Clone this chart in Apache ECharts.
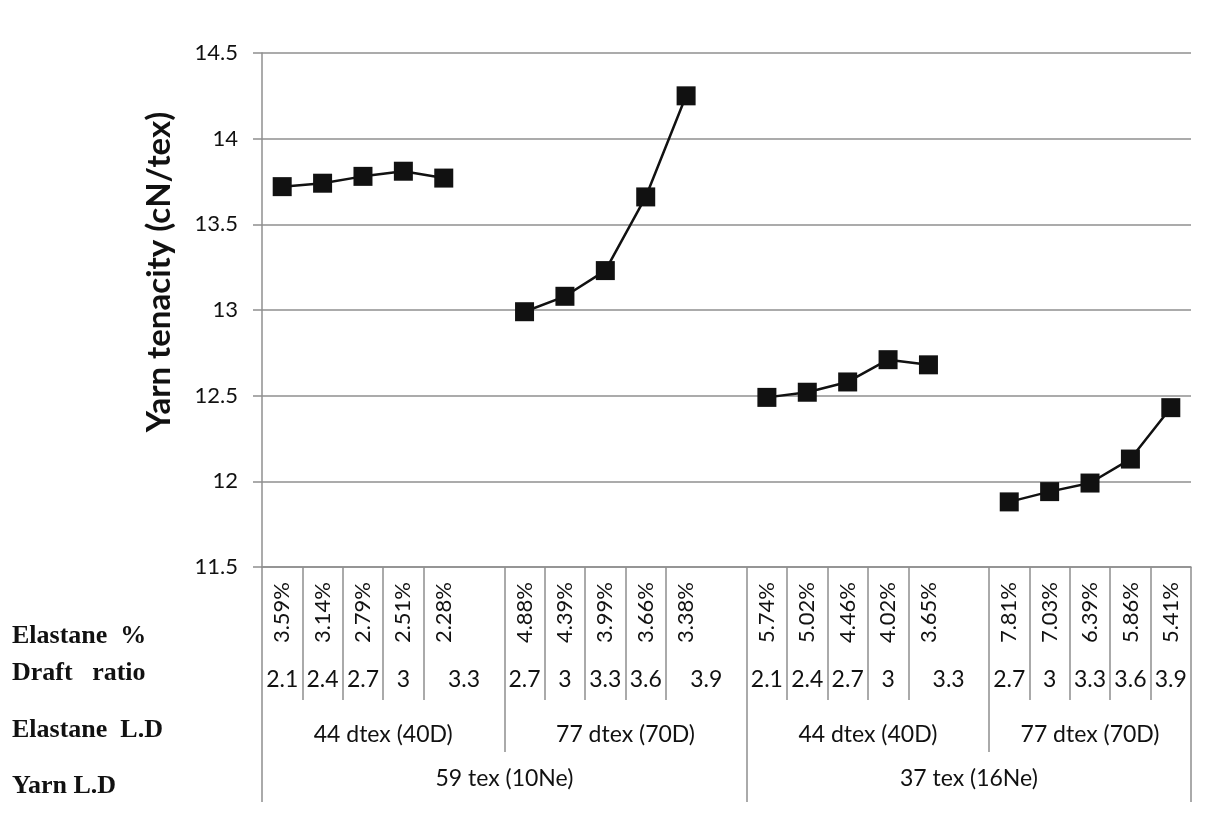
<!DOCTYPE html>
<html>
<head>
<meta charset="utf-8">
<script src="https://cdn.jsdelivr.net/npm/echarts@6/dist/echarts.min.js"></script>
<style>
  html, body { margin: 0; padding: 0; background: #fff; }
  #chart { width: 1210px; height: 815px; }
</style>
</head>
<body>
<div id="chart"></div>
<script>
// ---- data ----
const elastanePct = ['3.59%','3.14%','2.79%','2.51%','2.28%','',
                     '4.88%','4.39%','3.99%','3.66%','3.38%','',
                     '5.74%','5.02%','4.46%','4.02%','3.65%','',
                     '7.81%','7.03%','6.39%','5.86%','5.41%'];
const draftRatio  = ['2.1','2.4','2.7','3','3.3','',
                     '2.7','3','3.3','3.6','3.9','',
                     '2.1','2.4','2.7','3','3.3','',
                     '2.7','3','3.3','3.6','3.9'];
const elastaneLD     = ['44 dtex (40D)','77 dtex (70D)','44 dtex (40D)','77 dtex (70D)'];
const elastaneLDSpan = [6, 6, 6, 5];
const yarnLD         = ['59 tex (10Ne)','37 tex (16Ne)'];
const yarnLDSpan     = [12, 11];
const tenacity = [13.72,13.74,13.78,13.81,13.77,null,
                  12.99,13.08,13.23,13.66,14.25,null,
                  12.49,12.52,12.58,12.71,12.68,null,
                  11.88,11.94,11.99,12.13,12.43];
const rowNames = ['Elastane  %','Draft   ratio','Elastane  L.D','Yarn L.D'];
const yMin = 11.5, yMax = 14.5, yStep = 0.5;
const yTitle = 'Yarn tenacity (cN/tex)';

// ---- derived label layouts (in slot units) ----
const N = elastanePct.length;
const isSpacer = i => elastanePct[i] === '' && draftRatio[i] === '';
const draftMap = {};
for (let i = 0; i < N; i++) {
  if (draftRatio[i] === '') continue;
  const span = (i + 1 < N && isSpacer(i + 1)) ? 2 : 1;
  draftMap[Math.round((i + span / 2) * 2)] = draftRatio[i];
}
function groupInfo(labels, spans) {
  const map = {}, starts = {};
  let s = 0;
  labels.forEach((t, k) => { starts[s] = true; map[Math.round((s + spans[k] / 2) * 2)] = t; s += spans[k]; });
  return { map, starts };
}
const eld = groupInfo(elastaneLD, elastaneLDSpan);
const yld = groupInfo(yarnLD, yarnLDSpan);

const gridColor = '#8f8f8f';
const sansFont = 'Lato';

function tickAxis(intervalFn, len) {
  return {
    type: 'category', data: elastanePct, position: 'bottom', gridIndex: 0,
    axisLine: { show: false },
    axisLabel: { show: false },
    axisTick: { show: true, interval: intervalFn, length: len, lineStyle: { color: gridColor, width: 1.5 } },
    splitLine: { show: false }
  };
}
function labelAxis(map, margin) {
  return {
    type: 'value', min: 0, max: N, interval: 0.5, position: 'bottom', gridIndex: 0,
    axisLine: { show: false }, axisTick: { show: false }, splitLine: { show: false },
    axisLabel: {
      margin: margin, color: '#111', fontFamily: sansFont, fontSize: 23,
      showMinLabel: true, showMaxLabel: true,
      formatter: v => map[Math.round(v * 2)] || ''
    }
  };
}

const chart = echarts.init(document.getElementById('chart'), null, { renderer: 'canvas' });
chart.setOption({
  backgroundColor: '#fff',
  animation: false,
  grid: { left: 262, right: 19, top: 53, bottom: 248, containLabel: false },
  xAxis: [
    {
      type: 'category', data: elastanePct, position: 'bottom',
      axisLine: { show: true, lineStyle: { color: gridColor, width: 1.5 } },
      axisTick: { show: true, interval: (i) => !isSpacer(i), length: 133, lineStyle: { color: gridColor, width: 1.5 } },
      axisLabel: { interval: 0, rotate: 90, margin: 15, color: '#111', fontFamily: sansFont, fontSize: 22 }
    },
    tickAxis((i) => !!eld.starts[i], 185),
    tickAxis((i) => !!yld.starts[i], 235),
    labelAxis(draftMap, 101),
    labelAxis(eld.map, 156),
    labelAxis(yld.map, 200)
  ],
  yAxis: {
    type: 'value', min: yMin, max: yMax, interval: yStep,
    name: yTitle, nameLocation: 'middle', nameGap: 86, nameRotate: 90,
    nameTextStyle: { fontFamily: sansFont, fontWeight: 'bold', fontSize: 33, color: '#111', padding: [0, 0, 0, 76] },
    axisLine: { show: true, lineStyle: { color: gridColor, width: 1.5 } },
    axisTick: { show: true, length: 9, lineStyle: { color: gridColor, width: 1.5 } },
    axisLabel: { margin: 24, color: '#111', fontFamily: sansFont, fontSize: 22,
                 formatter: v => String(+v.toFixed(1)) },
    splitLine: { show: true, lineStyle: { color: gridColor, width: 1.5 } }
  },
  graphic: rowNames.map((t, k) => ({
    type: 'text', left: 12, top: [623, 660, 717, 773][k],
    style: { text: t, fill: '#111', font: 'bold 26px "Liberation Serif"' }
  })),
  series: [{
    type: 'line', data: tenacity, xAxisIndex: 0, yAxisIndex: 0,
    connectNulls: false,
    symbol: 'rect', symbolSize: 19,
    itemStyle: { color: '#111' },
    lineStyle: { color: '#111', width: 2.5 }
  }]
});
</script>
</body>
</html>
